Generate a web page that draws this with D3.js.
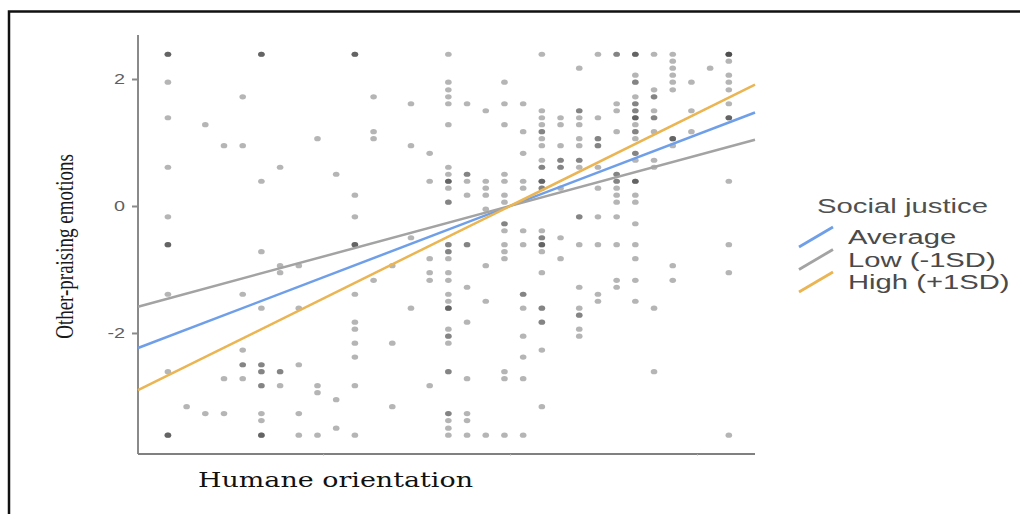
<!DOCTYPE html>
<html><head><meta charset="utf-8">
<script src="https://cdn.jsdelivr.net/npm/d3@7"></script>
<style>body{margin:0;background:#fff;} svg{display:block;background:#fff}</style>
</head><body>
<svg id="c" width="1020" height="514"></svg>
<script>
// Humane orientation levels (centered) and Other-praising emotions values at each level
const humaneLevels = [-1.83,-1.73,-1.63,-1.53,-1.43,-1.33,-1.23,-1.13,-1.03,-0.93,-0.83,-0.73,-0.63,-0.53,-0.43,-0.33,-0.23,-0.13,-0.03,0.07,0.17,0.27,0.37,0.47,0.57,0.67,0.77,0.87,0.97,1.07,1.17];
const emotionsByLevel = [
 [2.39,2.39,2.39,1.95,1.39,0.61,-0.17,-0.61,-0.61,-0.61,-1.39,-2.61,-3.61,-3.61,-3.61],
 [-3.16],
 [1.28,-3.27],
 [0.95,-2.72,-3.27],
 [1.72,0.95,-1.39,-2.27,-2.50,-2.50,-2.72],
 [2.39,2.39,2.39,0.39,-0.72,-1.61,-2.50,-2.50,-2.61,-2.61,-2.83,-2.83,-3.27,-3.38,-3.61,-3.61,-3.61],
 [0.61,-0.94,-1.05,-2.61,-2.61,-2.83],
 [-0.94,-1.61,-2.50,-3.27,-3.61],
 [1.06,-2.83,-2.94,-3.61],
 [0.50,-3.05,-3.50],
 [2.39,2.39,2.39,0.17,-0.17,-0.61,-0.61,-0.61,-1.39,-1.83,-1.94,-2.16,-2.38,-2.83,-3.61],
 [1.72,1.17,1.06,-1.17],
 [-0.94,-2.16,-3.16],
 [1.61,0.95,-0.50,-1.61],
 [0.83,0.39,-0.83,-1.05,-1.17,-2.83],
 [2.39,1.95,1.83,1.72,1.61,1.28,0.61,0.50,0.39,0.39,0.39,0.28,0.06,0.06,-0.61,-0.61,-0.72,-0.72,-0.83,-1.05,-1.17,-1.39,-1.50,-1.61,-1.61,-1.61,-1.94,-2.05,-2.05,-2.16,-2.61,-2.61,-3.27,-3.27,-3.38,-3.50,-3.61],
 [1.61,0.50,0.50,0.39,0.17,-0.61,-0.61,-1.28,-1.83,-2.72,-3.27,-3.38,-3.61],
 [1.50,0.39,0.28,0.17,-0.05,-0.94,-1.50,-3.61],
 [1.95,1.61,1.28,0.50,0.39,0.17,0.06,-0.28,-0.28,-0.39,-0.61,-0.72,-0.83,-2.61,-2.72,-3.61],
 [1.61,1.17,0.83,0.39,0.28,-0.39,-0.61,-1.39,-1.39,-1.61,-2.05,-2.38,-2.72,-3.61],
 [2.39,1.50,1.39,1.28,1.17,1.17,1.06,0.95,0.72,0.61,0.61,0.39,0.39,0.39,0.28,0.28,-0.39,-0.50,-0.50,-0.61,-0.61,-0.61,-0.72,-1.05,-1.61,-1.61,-1.83,-1.83,-2.27,-3.16],
 [1.39,1.28,0.95,0.72,0.72,0.61,0.61,0.28,-0.50,-0.83],
 [2.17,1.50,1.50,1.39,1.28,1.06,0.95,0.72,0.72,0.61,-0.17,-0.17,-0.61,-1.28,-1.61,-1.72,-1.72,-1.94,-2.05],
 [2.39,1.39,1.06,1.06,0.95,0.95,0.61,0.28,-0.17,-0.61,-1.39,-1.50],
 [2.39,2.39,1.61,1.50,1.17,0.50,0.50,0.39,0.39,0.28,0.17,0.06,-0.17,-0.61,-1.17,-1.28],
 [2.39,2.39,2.39,2.06,1.95,1.95,1.72,1.61,1.61,1.50,1.50,1.39,1.39,1.39,1.28,1.17,1.17,1.06,0.83,0.83,0.72,0.39,0.39,0.39,0.17,0.06,-0.28,-0.61,-0.83,-1.17,-1.50],
 [2.39,1.83,1.72,1.72,1.50,1.39,1.39,1.17,0.72,0.61,-1.61,-2.61],
 [2.39,2.28,2.17,2.06,1.95,1.83,1.06,1.06,1.06,0.95,-0.94,-1.17],
 [1.95,1.50,1.17],
 [2.17],
 [2.39,2.39,2.39,2.39,2.28,2.06,1.95,1.83,1.61,1.39,1.39,1.39,0.39,-0.61,-1.05,-3.61]
];
const yTicks = [-2, 0, 2];
const xTicks = [-1, 0, 1];
const groupNames = ["Average", "Low (-1SD)", "High (+1SD)"];
const groupSlopes = [1.124, 0.797, 1.458];
const groupIntercepts = [0, 0, 0];
const legendTitle = "Social justice";
const xTitle = "Humane orientation";
const yTitle = "Other-praising emotions";

const svg = d3.select("#c");
const x = d3.scaleLinear().domain([-1.99, 1.31]).range([138, 755]);
const y = d3.scaleLinear().domain([-3.906, 2.693]).range([454, 35]);
const color = d3.scaleOrdinal().domain(groupNames).range(["#6f9fe8", "#a3a3a3", "#eab552"]);

function stretch(sel, f) {
  sel.each(function(){ const w = this.getComputedTextLength(); d3.select(this).attr("textLength", w*f).attr("lengthAdjust","spacingAndGlyphs"); });
}

// frame
svg.append("path").attr("d","M9,520 V11.5 H1030").attr("fill","none").attr("stroke","#111").attr("stroke-width",2.5);

// points
const pts = [];
humaneLevels.forEach((hx,i) => emotionsByLevel[i].forEach(v => pts.push([hx, v])));
svg.append("g").selectAll("ellipse").data(pts).join("ellipse")
  .attr("cx", d => x(d[0])).attr("cy", d => y(d[1]))
  .attr("rx", 3.3).attr("ry", 2.6)
  .attr("fill", "#262626").attr("fill-opacity", 0.34);

// axes
const yAxis = svg.append("g").attr("transform","translate(138,0)")
  .call(d3.axisLeft(y).tickValues(yTicks).tickSize(6).tickPadding(6).tickFormat(d => String(d)));
yAxis.select(".domain").attr("stroke","#8a8a8a").attr("stroke-width",2).attr("d","M0,35V454");
yAxis.selectAll(".tick line").attr("stroke","#8a8a8a").attr("stroke-width",2);
yAxis.selectAll(".tick text").attr("font-family","Liberation Sans, Arial, sans-serif").attr("font-size",15).attr("fill","#5f5f5f").attr("dx",-1);
stretch(yAxis.selectAll(".tick text"), 1.32);

const xAxis = svg.append("g").attr("transform","translate(0,454)")
  .call(d3.axisBottom(x).tickValues(xTicks).tickSize(1.5).tickFormat(""));
xAxis.select(".domain").attr("stroke","#808080").attr("stroke-width",2).attr("d","M138,0H755");
xAxis.selectAll(".tick line").attr("stroke","#b0b0b0").attr("stroke-width",1);

// regression lines
const ext = x.domain();
svg.append("g").selectAll("line").data(groupNames).join("line")
  .attr("x1", x(ext[0])).attr("x2", x(ext[1]))
  .attr("y1", (d,i) => y(groupIntercepts[i] + groupSlopes[i]*ext[0]))
  .attr("y2", (d,i) => y(groupIntercepts[i] + groupSlopes[i]*ext[1]))
  .attr("stroke", d => color(d)).attr("stroke-width", 2.5);

// titles
svg.append("text").attr("x",198).attr("y",487).text(xTitle)
  .attr("font-family","DejaVu Serif, serif").attr("font-size",20).attr("fill","#111")
  .attr("textLength",275).attr("lengthAdjust","spacingAndGlyphs");
svg.append("text").attr("transform","translate(73,246.5) scale(1.3,1) rotate(-90)")
  .attr("text-anchor","middle").text(yTitle)
  .attr("font-family","Liberation Serif, Times New Roman, serif").attr("font-size",19).attr("fill","#1a1a1a");

// legend
const lg = svg.append("g");
lg.append("text").attr("x",817).attr("y",213).text(legendTitle)
  .attr("font-family","Liberation Sans, Arial, sans-serif").attr("font-size",20).attr("fill","#505050")
  .attr("textLength",171).attr("lengthAdjust","spacingAndGlyphs");
const items = lg.selectAll("g.it").data(groupNames).join("g").attr("class","it")
  .attr("transform",(d,i)=>`translate(0,${237 + i*22.5})`);
items.append("line").attr("x1",799).attr("y1",10).attr("x2",833).attr("y2",-10)
  .attr("stroke", d=>color(d)).attr("stroke-width",2.8);
items.append("text").attr("x",848).attr("y",7).text(d=>d)
  .attr("font-family","Liberation Sans, Arial, sans-serif").attr("font-size",20).attr("fill","#4a4a4a");
stretch(items.selectAll("text"), 1.46);
</script>
</body></html>
